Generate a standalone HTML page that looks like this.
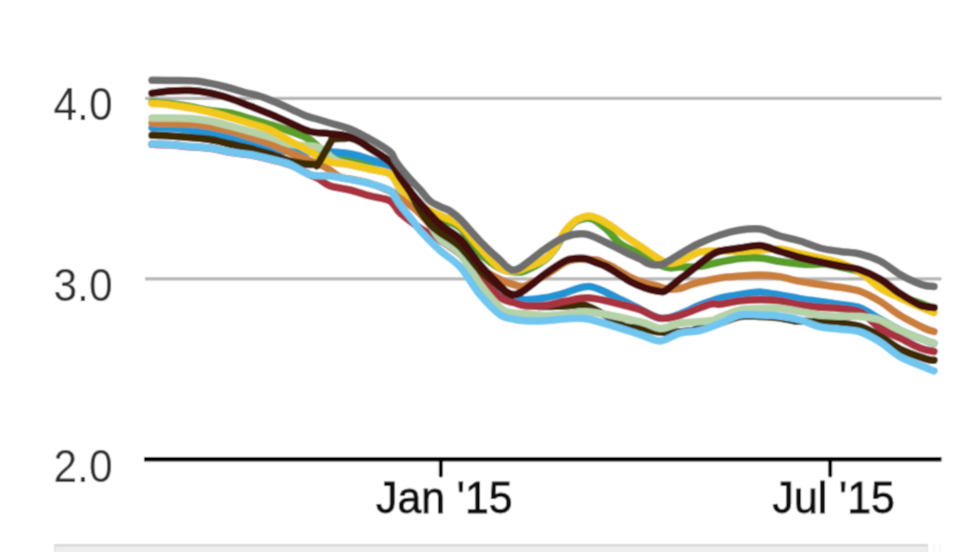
<!DOCTYPE html>
<html><head><meta charset="utf-8"><style>
html,body{margin:0;padding:0;background:#fff;width:980px;height:552px;overflow:hidden}
svg{position:absolute;left:0;top:0}
#w{position:absolute;left:0;top:0;width:980px;height:552px}
text{font-family:"Liberation Sans",sans-serif}
</style></head><body>
<div id="w"><svg width="980" height="552" viewBox="0 0 980 552">
<defs><filter id="b" x="0" y="0" width="980" height="552" filterUnits="userSpaceOnUse"><feConvolveMatrix order="3" kernelMatrix="0.0439 0.1217 0.0439 0.1217 0.3377 0.1217 0.0439 0.1217 0.0439" divisor="1" edgeMode="none"/></filter></defs>
<g filter="url(#b)">
<rect x="0" y="0" width="980" height="552" fill="#fff"/>
<rect x="54" y="544" width="874" height="12" fill="#eeeeee"/>
<line x1="54" y1="545.3" x2="928" y2="545.3" stroke="#d9d9d9" stroke-width="2.6"/>
<line x1="55" y1="546" x2="55" y2="552" stroke="#e2e2e2" stroke-width="1.5"/>
<line x1="927.3" y1="546" x2="927.3" y2="552" stroke="#e4e4e4" stroke-width="1.5"/>
<line x1="934" y1="544" x2="934" y2="552" stroke="#f4f4f4" stroke-width="1.2"/>
<line x1="940" y1="544" x2="940" y2="552" stroke="#f4f4f4" stroke-width="1.2"/>
<g stroke="#b6b6b6" stroke-width="3.3">
<line x1="145" y1="98.4" x2="941.5" y2="98.4"/>
<line x1="145" y1="278.9" x2="941.5" y2="278.9"/>
</g>
<g fill="#2e2e2e" font-size="43" text-anchor="end">
<text transform="translate(112.6,120.2) scale(0.99,1.068)">4.0</text>
<text transform="translate(112.6,300.9) scale(0.99,1.068)">3.0</text>
<text transform="translate(112.6,481.8) scale(0.99,1.068)">2.0</text>
</g>
<g fill="none" stroke-width="7.5" stroke-linecap="round" stroke-linejoin="round">
<path d="M152.0,102.0 C155.0,102.2 163.7,102.8 170.0,103.5 C176.3,104.2 183.3,105.3 190.0,106.5 C196.7,107.7 203.3,109.4 210.0,110.5 C216.7,111.6 223.3,111.7 230.0,113.0 C236.7,114.3 243.3,116.6 250.0,118.5 C256.7,120.4 263.3,122.4 270.0,124.5 C276.7,126.6 283.3,128.6 290.0,131.2 C296.7,133.8 303.3,135.6 310.0,139.8 C316.7,144.0 323.3,153.4 330.0,156.5 C336.7,159.6 343.3,157.5 350.0,158.6 C356.7,159.7 363.3,161.6 370.0,163.2 C376.7,164.8 385.0,163.9 390.0,168.0 C395.0,172.1 395.0,181.5 400.0,188.0 C405.0,194.5 413.3,202.0 420.0,207.0 C426.7,212.0 433.3,214.6 440.0,218.0 C446.7,221.4 453.3,221.8 460.0,227.6 C466.7,233.4 473.3,246.2 480.0,253.0 C486.7,259.8 494.2,265.2 500.0,268.4 C505.8,271.6 510.8,271.6 515.0,272.0 C519.2,272.4 520.0,273.0 525.0,271.0 C530.0,269.0 540.0,263.7 545.0,260.0 C550.0,256.3 551.7,253.5 555.0,249.0 C558.3,244.5 561.7,237.5 565.0,233.0 C568.3,228.5 571.7,224.4 575.0,222.0 C578.3,219.6 582.2,219.0 585.0,218.5 C587.8,218.0 589.5,218.1 592.0,219.0 C594.5,219.9 597.2,221.9 600.0,224.0 C602.8,226.1 605.7,228.2 609.0,231.5 C612.3,234.8 614.8,239.8 620.0,243.5 C625.2,247.2 632.5,250.1 640.0,254.0 C647.5,257.9 658.3,264.8 665.0,267.0 C671.7,269.2 674.2,267.1 680.0,267.0 C685.8,266.9 693.3,267.2 700.0,266.4 C706.7,265.6 713.3,263.3 720.0,262.0 C726.7,260.7 733.3,259.2 740.0,258.5 C746.7,257.8 753.3,257.5 760.0,258.0 C766.7,258.5 773.3,260.5 780.0,261.5 C786.7,262.5 794.7,263.5 800.0,264.0 C805.3,264.5 807.8,264.5 812.0,264.5 C816.2,264.5 820.3,263.6 825.0,264.0 C829.7,264.4 834.2,265.7 840.0,267.0 C845.8,268.3 853.3,269.2 860.0,272.0 C866.7,274.8 873.3,280.0 880.0,284.0 C886.7,288.0 893.3,292.8 900.0,296.0 C906.7,299.2 914.3,300.9 920.0,303.0 C925.7,305.1 931.7,307.6 934.0,308.5" stroke="#5a9e2c"/>
<path d="M505.0,292.0 C507.5,293.0 515.0,295.7 520.0,298.0 C525.0,300.3 527.5,304.7 535.0,306.0 C542.5,307.3 556.7,306.1 565.0,306.0 C573.3,305.9 578.3,303.8 585.0,305.3 C591.7,306.8 598.3,311.4 605.0,315.0 C611.7,318.6 619.2,324.5 625.0,326.6 C630.8,328.7 634.2,326.7 640.0,327.6 C645.8,328.5 651.7,331.4 660.0,332.0 C668.3,332.6 683.3,331.7 690.0,331.0 C696.7,330.3 695.0,329.3 700.0,328.0 C705.0,326.7 713.3,324.9 720.0,323.0 C726.7,321.1 733.3,317.6 740.0,316.5 C746.7,315.4 753.3,316.2 760.0,316.5 C766.7,316.8 774.2,317.2 780.0,318.0 C785.8,318.8 791.7,320.5 795.0,321.0 C798.3,321.5 795.8,320.8 800.0,321.0 C804.2,321.2 813.3,321.8 820.0,322.2 C826.7,322.6 833.3,322.6 840.0,323.3 C846.7,324.0 853.3,324.2 860.0,326.3 C866.7,328.4 873.3,332.2 880.0,336.0 C886.7,339.8 892.5,345.3 900.0,349.1 C907.5,352.9 919.3,356.7 925.0,358.6 C930.7,360.5 932.5,360.0 934.0,360.3" stroke="#3d2a06"/>
<path d="M152.0,127.7 C155.0,127.8 163.7,127.6 170.0,128.0 C176.3,128.4 183.3,129.2 190.0,130.0 C196.7,130.8 203.3,131.3 210.0,132.5 C216.7,133.7 223.3,135.1 230.0,137.0 C236.7,138.9 243.3,142.0 250.0,144.0 C256.7,146.0 263.3,147.8 270.0,149.0 C276.7,150.2 283.3,151.0 290.0,151.5 C296.7,152.0 303.3,151.9 310.0,152.0 C316.7,152.1 323.3,151.7 330.0,152.0 C336.7,152.3 343.3,152.5 350.0,153.7 C356.7,154.9 363.3,156.8 370.0,159.2 C376.7,161.6 385.0,164.5 390.0,168.0 C395.0,171.5 395.0,173.0 400.0,180.0 C405.0,187.0 413.3,202.3 420.0,210.0 C426.7,217.7 433.3,221.0 440.0,226.0 C446.7,231.0 453.3,233.3 460.0,240.0 C466.7,246.7 473.3,258.0 480.0,266.0 C486.7,274.0 494.2,282.7 500.0,288.0 C505.8,293.3 510.8,296.0 515.0,298.0 C519.2,300.0 520.0,299.8 525.0,299.8 C530.0,299.8 538.3,298.9 545.0,297.8 C551.7,296.7 557.5,294.9 565.0,293.0 C572.5,291.1 580.8,285.5 590.0,286.5 C599.2,287.5 612.3,295.8 620.0,299.2 C627.7,302.6 629.3,303.8 636.0,307.0 C642.7,310.2 652.7,317.0 660.0,318.2 C667.3,319.4 673.3,316.2 680.0,314.0 C686.7,311.8 693.3,307.7 700.0,305.0 C706.7,302.3 713.3,299.8 720.0,298.0 C726.7,296.2 733.3,295.5 740.0,294.5 C746.7,293.5 753.3,292.0 760.0,292.1 C766.7,292.2 773.3,293.9 780.0,295.0 C786.7,296.1 793.3,297.5 800.0,298.6 C806.7,299.7 813.3,300.4 820.0,301.4 C826.7,302.4 833.3,303.4 840.0,304.5 C846.7,305.6 853.3,305.4 860.0,307.8 C866.7,310.2 873.3,315.3 880.0,319.0 C886.7,322.7 892.5,326.6 900.0,330.1 C907.5,333.7 919.3,338.1 925.0,340.3 C930.7,342.5 932.5,342.8 934.0,343.3" stroke="#2093d3"/>
<path d="M152.0,144.3 C155.0,144.4 163.7,144.4 170.0,144.8 C176.3,145.2 183.3,146.2 190.0,146.8 C196.7,147.4 203.3,147.4 210.0,148.3 C216.7,149.2 223.3,151.2 230.0,152.3 C236.7,153.4 243.3,153.6 250.0,154.8 C256.7,156.0 263.3,157.6 270.0,159.3 C276.7,161.0 283.3,162.2 290.0,164.8 C296.7,167.4 305.3,172.6 310.0,174.9 C314.7,177.2 314.7,176.7 318.0,178.5 C321.3,180.3 324.7,184.0 330.0,185.9 C335.3,187.8 343.3,188.3 350.0,190.0 C356.7,191.7 363.3,194.1 370.0,195.9 C376.7,197.7 385.0,198.1 390.0,200.9 C395.0,203.8 395.0,208.5 400.0,213.0 C405.0,217.5 413.3,223.5 420.0,228.0 C426.7,232.5 433.3,235.7 440.0,240.0 C446.7,244.3 453.3,248.1 460.0,254.0 C466.7,259.9 473.3,268.5 480.0,275.7 C486.7,282.9 494.2,292.8 500.0,297.4 C505.8,301.9 510.8,301.6 515.0,303.0 C519.2,304.4 520.0,305.3 525.0,305.7 C530.0,306.1 538.3,306.2 545.0,305.5 C551.7,304.8 557.5,302.6 565.0,301.3 C572.5,300.0 580.8,297.4 590.0,297.9 C599.2,298.4 611.7,302.3 620.0,304.3 C628.3,306.3 633.3,307.4 640.0,309.7 C646.7,312.0 653.3,317.3 660.0,318.2 C666.7,319.1 671.7,317.6 680.0,315.3 C688.3,313.0 703.3,306.1 710.0,304.3 C716.7,302.5 715.0,305.0 720.0,304.4 C725.0,303.8 733.3,301.7 740.0,300.9 C746.7,300.1 753.3,299.7 760.0,299.7 C766.7,299.7 773.3,300.0 780.0,300.9 C786.7,301.8 793.3,303.9 800.0,305.0 C806.7,306.1 813.3,306.7 820.0,307.3 C826.7,307.9 833.3,307.7 840.0,308.5 C846.7,309.3 853.3,308.8 860.0,312.0 C866.7,315.2 873.3,323.6 880.0,328.0 C886.7,332.4 893.3,334.9 900.0,338.2 C906.7,341.5 914.3,345.8 920.0,348.0 C925.7,350.2 931.7,350.9 934.0,351.5" stroke="#a8323f"/>
<path d="M152.0,123.0 C158.3,123.2 180.3,123.4 190.0,124.0 C199.7,124.6 203.3,125.3 210.0,126.5 C216.7,127.7 223.3,129.2 230.0,131.0 C236.7,132.8 243.3,134.9 250.0,137.0 C256.7,139.1 263.3,140.9 270.0,143.5 C276.7,146.1 283.3,149.6 290.0,152.5 C296.7,155.4 304.2,158.4 310.0,160.8 C315.8,163.2 320.0,164.3 325.0,167.0 C330.0,169.7 335.8,175.0 340.0,177.0 C344.2,179.0 345.0,177.9 350.0,179.0 C355.0,180.1 363.3,181.5 370.0,183.5 C376.7,185.5 385.0,188.8 390.0,191.0 C395.0,193.2 397.2,195.0 400.0,197.0 C402.8,199.0 404.5,201.0 407.0,203.0 C409.5,205.0 412.0,206.3 415.0,209.0 C418.0,211.7 420.8,214.5 425.0,219.0 C429.2,223.5 434.2,230.5 440.0,236.0 C445.8,241.5 453.3,246.7 460.0,252.0 C466.7,257.3 473.3,263.4 480.0,268.0 C486.7,272.6 494.2,276.5 500.0,279.3 C505.8,282.1 510.8,283.9 515.0,285.0 C519.2,286.1 520.0,287.6 525.0,286.0 C530.0,284.4 538.3,279.4 545.0,275.5 C551.7,271.6 560.0,265.2 565.0,262.5 C570.0,259.8 571.7,260.0 575.0,259.5 C578.3,259.0 581.3,259.4 585.0,259.5 C588.7,259.6 593.7,259.3 597.0,260.0 C600.3,260.7 602.5,262.4 605.0,263.5 C607.5,264.6 607.8,264.2 612.0,266.5 C616.2,268.8 624.5,274.2 630.0,277.0 C635.5,279.8 640.5,281.5 645.0,283.0 C649.5,284.5 653.2,285.0 657.0,286.0 C660.8,287.0 664.2,288.6 668.0,289.0 C671.8,289.4 676.3,289.2 680.0,288.5 C683.7,287.8 686.7,286.1 690.0,285.0 C693.3,283.9 695.0,283.2 700.0,282.0 C705.0,280.8 713.3,279.0 720.0,278.0 C726.7,277.0 733.3,276.6 740.0,276.1 C746.7,275.6 753.3,274.9 760.0,275.0 C766.7,275.1 773.3,275.7 780.0,276.8 C786.7,277.9 793.3,280.1 800.0,281.4 C806.7,282.7 813.3,283.5 820.0,284.5 C826.7,285.5 833.3,286.2 840.0,287.3 C846.7,288.4 853.3,289.0 860.0,291.3 C866.7,293.6 873.3,297.4 880.0,301.4 C886.7,305.4 892.5,310.9 900.0,315.4 C907.5,319.9 919.3,325.8 925.0,328.5 C930.7,331.2 932.5,331.0 934.0,331.5" stroke="#c97f3a"/>
<path d="M152.0,118.0 C155.0,118.0 163.7,117.9 170.0,118.0 C176.3,118.1 183.3,118.0 190.0,118.5 C196.7,119.0 203.3,119.8 210.0,121.0 C216.7,122.2 223.3,124.2 230.0,126.0 C236.7,127.8 243.3,129.7 250.0,131.5 C256.7,133.3 263.3,134.9 270.0,137.0 C276.7,139.1 284.2,142.6 290.0,144.0 C295.8,145.4 300.0,144.9 305.0,145.6 C310.0,146.3 315.0,145.6 320.0,148.0 C325.0,150.4 330.0,157.2 335.0,160.0 C340.0,162.8 344.2,163.0 350.0,164.5 C355.8,166.0 363.3,167.4 370.0,169.0 C376.7,170.6 385.0,170.7 390.0,174.0 C395.0,177.3 396.7,185.3 400.0,189.0 C403.3,192.7 406.7,193.0 410.0,196.0 C413.3,199.0 416.7,202.3 420.0,207.0 C423.3,211.7 426.7,218.7 430.0,224.0 C433.3,229.3 435.0,234.1 440.0,239.0 C445.0,243.9 453.3,246.2 460.0,253.7 C466.7,261.2 473.3,275.1 480.0,284.0 C486.7,292.9 495.0,302.6 500.0,307.4 C505.0,312.1 505.8,311.4 510.0,312.5 C514.2,313.6 519.2,313.2 525.0,313.7 C530.8,314.2 538.3,315.6 545.0,315.7 C551.7,315.8 557.5,314.8 565.0,314.2 C572.5,313.6 577.5,310.6 590.0,311.9 C602.5,313.1 628.3,318.9 640.0,321.7 C651.7,324.4 653.3,328.1 660.0,328.4 C666.7,328.7 671.7,324.7 680.0,323.4 C688.3,322.1 703.3,321.9 710.0,320.8 C716.7,319.8 715.0,318.9 720.0,317.1 C725.0,315.3 733.3,311.2 740.0,309.8 C746.7,308.4 753.3,308.8 760.0,308.6 C766.7,308.4 773.3,308.1 780.0,308.6 C786.7,309.1 793.3,310.5 800.0,311.6 C806.7,312.7 813.3,314.3 820.0,315.1 C826.7,315.9 833.3,316.1 840.0,316.3 C846.7,316.5 853.3,315.9 860.0,316.5 C866.7,317.1 873.3,317.7 880.0,320.0 C886.7,322.3 892.5,326.7 900.0,330.1 C907.5,333.5 919.3,338.1 925.0,340.3 C930.7,342.5 932.5,342.8 934.0,343.3" stroke="#b5d2a8"/>
<path d="M152.0,103.5 C155.0,103.8 163.7,104.2 170.0,105.0 C176.3,105.8 183.3,106.8 190.0,108.0 C196.7,109.2 203.3,110.4 210.0,112.0 C216.7,113.6 223.3,115.6 230.0,117.5 C236.7,119.4 243.3,121.4 250.0,123.5 C256.7,125.6 263.3,127.1 270.0,130.0 C276.7,132.9 283.3,137.4 290.0,141.0 C296.7,144.6 303.3,148.1 310.0,151.5 C316.7,154.9 323.3,159.5 330.0,161.7 C336.7,163.9 343.3,163.5 350.0,164.8 C356.7,166.1 363.3,167.8 370.0,169.3 C376.7,170.9 385.0,171.2 390.0,174.1 C395.0,177.0 395.0,181.8 400.0,187.0 C405.0,192.2 413.3,200.3 420.0,205.0 C426.7,209.7 433.3,212.1 440.0,215.4 C446.7,218.7 453.3,219.6 460.0,225.0 C466.7,230.4 473.3,240.4 480.0,247.6 C486.7,254.8 494.2,264.1 500.0,268.0 C505.8,271.9 510.8,271.0 515.0,271.0 C519.2,271.0 520.0,270.0 525.0,268.0 C530.0,266.0 540.0,262.3 545.0,259.0 C550.0,255.7 551.7,252.7 555.0,248.0 C558.3,243.3 561.7,235.5 565.0,231.0 C568.3,226.5 572.0,223.3 575.0,221.0 C578.0,218.7 580.5,217.8 583.0,217.0 C585.5,216.2 587.7,215.8 590.0,216.0 C592.3,216.2 594.5,217.0 597.0,218.0 C599.5,219.0 602.0,220.2 605.0,222.0 C608.0,223.8 611.7,226.2 615.0,228.5 C618.3,230.8 620.8,233.1 625.0,236.0 C629.2,238.9 633.3,241.7 640.0,246.0 C646.7,250.3 658.3,259.4 665.0,262.0 C671.7,264.6 674.2,263.0 680.0,261.3 C685.8,259.6 693.3,253.7 700.0,252.0 C706.7,250.3 713.3,251.2 720.0,251.0 C726.7,250.8 733.3,251.2 740.0,251.0 C746.7,250.8 753.3,250.3 760.0,250.0 C766.7,249.7 773.3,248.4 780.0,249.0 C786.7,249.6 793.3,252.0 800.0,253.5 C806.7,255.0 813.3,256.5 820.0,258.0 C826.7,259.5 833.3,260.2 840.0,262.5 C846.7,264.8 853.3,267.8 860.0,272.0 C866.7,276.2 873.3,283.7 880.0,288.0 C886.7,292.3 892.5,294.5 900.0,298.0 C907.5,301.5 919.3,306.6 925.0,309.0 C930.7,311.4 932.5,312.1 934.0,312.7" stroke="#f2c81e"/>
<path d="M152.0,135.3 C155.0,135.4 163.7,135.6 170.0,136.0 C176.3,136.4 183.3,136.9 190.0,137.5 C196.7,138.1 203.3,138.4 210.0,139.5 C216.7,140.6 223.3,142.5 230.0,144.0 C236.7,145.5 243.3,146.8 250.0,148.5 C256.7,150.2 263.3,151.9 270.0,154.0 C276.7,156.1 284.2,159.3 290.0,161.0 C295.8,162.7 300.7,163.4 305.0,164.0 C309.3,164.6 313.8,164.5 316.0,164.5 C318.2,164.5 315.5,167.8 318.0,164.0 C320.5,160.2 328.5,145.7 331.0,141.5 C333.5,137.3 330.7,139.5 333.0,139.0 C335.3,138.5 342.2,138.7 345.0,138.5 C347.8,138.3 347.5,137.5 350.0,138.0 C352.5,138.5 356.7,139.8 360.0,141.5 C363.3,143.2 365.0,145.1 370.0,148.5 C375.0,151.9 385.0,157.2 390.0,162.0 C395.0,166.8 396.7,172.1 400.0,177.0 C403.3,181.9 406.7,186.0 410.0,191.5 C413.3,197.0 416.7,204.6 420.0,210.0 C423.3,215.4 426.7,220.2 430.0,224.0 C433.3,227.8 435.0,228.8 440.0,232.5 C445.0,236.2 453.3,240.2 460.0,246.4 C466.7,252.7 473.3,263.2 480.0,270.0 C486.7,276.8 495.7,283.3 500.0,287.0 C504.3,290.7 504.0,290.7 506.0,292.0 C508.0,293.3 511.0,294.5 512.0,295.0" stroke="#3d2a06"/>
<path d="M152.0,144.0 C155.0,144.1 163.7,144.1 170.0,144.5 C176.3,144.9 183.3,145.9 190.0,146.5 C196.7,147.1 203.3,147.1 210.0,148.0 C216.7,148.9 223.3,150.9 230.0,152.0 C236.7,153.1 243.3,153.3 250.0,154.5 C256.7,155.7 263.3,157.3 270.0,159.0 C276.7,160.7 283.3,161.9 290.0,164.5 C296.7,167.1 303.3,172.7 310.0,174.6 C316.7,176.5 323.3,175.2 330.0,176.0 C336.7,176.8 343.3,178.1 350.0,179.4 C356.7,180.7 363.3,181.7 370.0,183.6 C376.7,185.5 385.0,187.3 390.0,190.8 C395.0,194.3 395.8,199.4 400.0,204.8 C404.2,210.2 411.7,219.2 415.0,223.5 C418.3,227.8 415.8,226.0 420.0,230.5 C424.2,235.0 433.3,244.4 440.0,250.5 C446.7,256.6 453.3,259.4 460.0,266.8 C466.7,274.2 473.3,286.7 480.0,294.7 C486.7,302.7 494.2,310.5 500.0,314.6 C505.8,318.7 510.8,318.5 515.0,319.5 C519.2,320.5 520.0,320.5 525.0,320.7 C530.0,320.9 538.3,321.0 545.0,320.7 C551.7,320.4 557.5,319.2 565.0,319.0 C572.5,318.8 577.5,316.9 590.0,319.5 C602.5,322.1 628.3,331.0 640.0,334.6 C651.7,338.2 653.3,341.2 660.0,341.0 C666.7,340.8 673.3,334.9 680.0,333.1 C686.7,331.4 693.3,332.1 700.0,330.5 C706.7,328.9 713.3,326.0 720.0,323.4 C726.7,320.8 733.3,316.4 740.0,315.0 C746.7,313.6 753.3,314.8 760.0,315.0 C766.7,315.2 773.3,315.4 780.0,316.2 C786.7,317.0 793.3,318.2 800.0,320.0 C806.7,321.8 813.3,325.4 820.0,326.9 C826.7,328.4 833.3,328.4 840.0,329.2 C846.7,330.0 853.3,329.8 860.0,331.9 C866.7,334.0 873.3,337.9 880.0,342.0 C886.7,346.1 892.5,352.5 900.0,356.7 C907.5,360.9 919.3,364.9 925.0,367.3 C930.7,369.7 932.5,370.3 934.0,370.9" stroke="#6fc6ee"/>
<path d="M152.0,93.2 C155.0,92.8 163.7,91.5 170.0,91.0 C176.3,90.5 183.3,90.2 190.0,90.5 C196.7,90.8 203.3,91.7 210.0,93.0 C216.7,94.3 223.3,96.3 230.0,98.5 C236.7,100.7 243.3,103.4 250.0,106.0 C256.7,108.6 263.3,111.2 270.0,114.0 C276.7,116.8 283.3,120.1 290.0,123.0 C296.7,125.9 303.3,129.7 310.0,131.5 C316.7,133.3 323.3,132.8 330.0,133.7 C336.7,134.6 343.3,134.6 350.0,137.0 C356.7,139.4 363.3,144.0 370.0,148.1 C376.7,152.2 385.8,158.5 390.0,161.8 C394.2,165.1 393.3,165.5 395.0,168.0 C396.7,170.5 397.5,173.2 400.0,177.0 C402.5,180.8 406.7,186.7 410.0,191.0 C413.3,195.3 415.0,197.4 420.0,203.0 C425.0,208.6 433.3,218.4 440.0,224.4 C446.7,230.4 453.3,232.3 460.0,239.0 C466.7,245.7 473.3,257.0 480.0,264.8 C486.7,272.6 495.7,281.6 500.0,286.0 C504.3,290.4 504.0,290.1 506.0,291.5 C508.0,292.9 509.7,294.2 512.0,294.5 C514.3,294.8 517.0,294.4 520.0,293.0 C523.0,291.6 525.8,289.2 530.0,286.0 C534.2,282.8 539.2,278.2 545.0,274.0 C550.8,269.8 560.0,263.6 565.0,261.0 C570.0,258.4 571.7,258.9 575.0,258.5 C578.3,258.1 581.3,257.8 585.0,258.5 C588.7,259.2 593.7,261.8 597.0,263.0 C600.3,264.2 602.5,264.8 605.0,266.0 C607.5,267.2 607.8,267.4 612.0,270.0 C616.2,272.6 624.5,278.5 630.0,281.5 C635.5,284.5 640.5,286.4 645.0,288.0 C649.5,289.6 653.8,290.4 657.0,291.0 C660.2,291.6 661.5,292.4 664.0,291.5 C666.5,290.6 669.3,287.6 672.0,285.5 C674.7,283.4 677.0,281.3 680.0,279.0 C683.0,276.7 686.7,274.1 690.0,271.5 C693.3,268.9 696.7,266.1 700.0,263.5 C703.3,260.9 706.7,258.1 710.0,256.0 C713.3,253.9 715.0,252.3 720.0,251.0 C725.0,249.7 733.3,248.9 740.0,248.0 C746.7,247.1 753.3,244.9 760.0,245.5 C766.7,246.1 773.3,249.5 780.0,251.5 C786.7,253.5 793.3,255.8 800.0,257.5 C806.7,259.2 813.3,260.6 820.0,262.0 C826.7,263.4 833.3,264.7 840.0,266.0 C846.7,267.3 853.3,267.5 860.0,269.7 C866.7,271.9 873.3,275.0 880.0,279.0 C886.7,283.0 893.3,289.2 900.0,293.5 C906.7,297.8 914.3,302.7 920.0,305.0 C925.7,307.3 931.7,307.1 934.0,307.5" stroke="#420c0f"/>
<path d="M152.0,80.3 C155.0,80.3 162.7,80.4 170.0,80.5 C177.3,80.6 187.7,80.2 196.0,81.0 C204.3,81.8 211.8,83.6 220.0,85.5 C228.2,87.4 238.7,90.8 245.0,92.5 C251.3,94.2 253.8,94.2 258.0,95.5 C262.2,96.8 266.0,98.4 270.0,100.0 C274.0,101.6 277.8,103.2 282.0,105.0 C286.2,106.8 291.2,109.2 295.0,111.0 C298.8,112.8 301.7,114.2 305.0,115.5 C308.3,116.8 310.8,117.2 315.0,118.5 C319.2,119.8 324.2,121.3 330.0,123.0 C335.8,124.7 343.3,126.2 350.0,128.9 C356.7,131.6 363.3,135.3 370.0,139.1 C376.7,142.9 385.8,148.2 390.0,151.7 C394.2,155.2 393.3,157.4 395.0,160.0 C396.7,162.6 397.5,163.8 400.0,167.0 C402.5,170.2 406.7,175.2 410.0,179.0 C413.3,182.8 416.7,185.8 420.0,189.5 C423.3,193.2 426.7,198.2 430.0,201.0 C433.3,203.8 436.7,204.8 440.0,206.5 C443.3,208.2 446.7,208.9 450.0,211.0 C453.3,213.1 456.7,215.8 460.0,219.0 C463.3,222.2 466.7,226.3 470.0,230.0 C473.3,233.7 476.7,237.5 480.0,241.0 C483.3,244.5 486.7,247.8 490.0,251.0 C493.3,254.2 497.3,257.5 500.0,260.0 C502.7,262.5 504.0,264.3 506.0,266.0 C508.0,267.7 509.8,269.6 512.0,270.0 C514.2,270.4 516.3,269.8 519.0,268.5 C521.7,267.2 523.7,265.2 528.0,262.0 C532.3,258.8 538.8,253.2 545.0,249.0 C551.2,244.8 558.3,239.5 565.0,237.0 C571.7,234.5 578.3,233.2 585.0,234.0 C591.7,234.8 598.3,239.0 605.0,242.0 C611.7,245.0 619.2,249.2 625.0,252.0 C630.8,254.8 636.2,257.1 640.0,259.0 C643.8,260.9 645.5,262.5 648.0,263.5 C650.5,264.5 652.5,264.9 655.0,265.0 C657.5,265.1 660.2,265.0 663.0,264.0 C665.8,263.0 669.2,260.7 672.0,259.0 C674.8,257.3 677.0,255.8 680.0,254.0 C683.0,252.2 686.7,249.8 690.0,248.0 C693.3,246.2 695.0,245.2 700.0,243.0 C705.0,240.8 713.3,237.2 720.0,235.0 C726.7,232.8 733.3,231.0 740.0,230.0 C746.7,229.0 753.3,228.0 760.0,229.0 C766.7,230.0 773.3,234.0 780.0,236.0 C786.7,238.0 793.3,239.0 800.0,241.0 C806.7,243.0 813.3,246.2 820.0,248.0 C826.7,249.8 833.3,250.5 840.0,251.5 C846.7,252.5 853.3,252.4 860.0,254.0 C866.7,255.6 873.3,257.6 880.0,261.0 C886.7,264.4 894.2,271.0 900.0,274.5 C905.8,278.0 910.8,280.2 915.0,282.0 C919.2,283.8 921.8,284.8 925.0,285.5 C928.2,286.2 932.5,286.3 934.0,286.5" stroke="#6e6e6e"/>
</g>
<g stroke="#000">
<line x1="144" y1="459.3" x2="941.5" y2="459.3" stroke-width="4.6"/>
<line x1="440.8" y1="459" x2="440.8" y2="475.5" stroke-width="3.9" stroke-linecap="round"/>
<line x1="830.2" y1="459" x2="830.2" y2="475.5" stroke-width="3.9" stroke-linecap="round"/>
</g>
<g fill="#111" font-size="43" stroke="#111" stroke-width="0.9">
<text transform="translate(376,513.2) scale(0.995,1.05)">Jan '15</text>
<text transform="translate(772.5,513.2) scale(0.995,1.05)">Jul '15</text>
</g>
</g>
</svg></div>
</body></html>
